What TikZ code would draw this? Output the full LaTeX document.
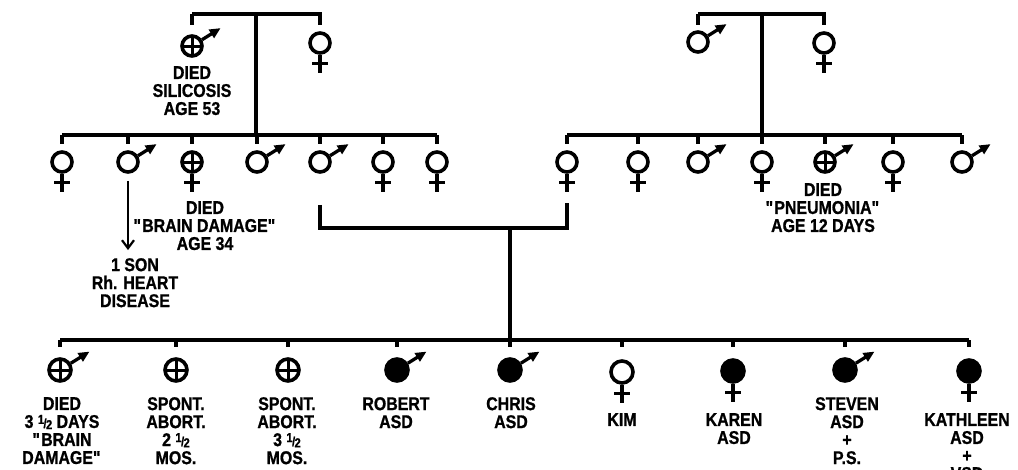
\documentclass[tikz,border=0pt]{standalone}
\usepackage{fontspec}
\setmainfont{Liberation Sans}[BoldFeatures={FakeBold=0.9,FakeStretch=0.86}]
\usetikzlibrary{arrows.meta,positioning,calc}

\newcommand\halfmark{{\fontsize{13}{13}\selectfont\raisebox{4pt}{1}\kern-0.6pt/\kern-0.6pt\raisebox{-1.2pt}{2}}}

\tikzset{
  kin/.style={line width=3.3pt},
  person/.style={circle,draw,line width=3.6pt,minimum size=20pt,inner sep=0pt},
  child/.style={person,minimum size=22pt},
  dead/.style={path picture={\draw[line width=3pt]
      (path picture bounding box.north) -- (path picture bounding box.south)
      (path picture bounding box.west) -- (path picture bounding box.east);}},
  asd/.style={fill=black},
  malearrow/.style={line width=3.3pt,-{Triangle[length=11pt,width=9.5pt]}},
  descent/.style={line width=2.2pt,-{Straight Barb[length=8pt,width=12pt]}},
  note/.style={font=\fontsize{18.5}{18}\selectfont\bfseries,align=center,inner sep=0pt,anchor=north},
}

\begin{document}
\begin{tikzpicture}[x=1pt,y=-1pt]
  \useasboundingbox (0,0) rectangle (1018,469);

  % grandparents
  \node[person,dead] (g1) at (192,46) {};
  \node[person] (g2) at (320,43) {};
  \coordinate (mar1) at (256,14);
  \node[person] (h1) at (698,42) {};
  \node[person] (h2) at (824,43) {};
  \coordinate (mar2) at (762,14);
  \node[note] (t1) at (192,66) {DIED\\SILICOSIS\\AGE 53};

  % father's sibship
  \coordinate (sib1) at (0,135);
  \node[person] (c1) at (62,162) {};
  \node[person] (c2) at (128,162) {};
  \node[person,dead] (c3) at (192,162) {};
  \node[person] (c4) at (257,162) {};
  \node[person] (c5) at (320,162) {};
  \node[person] (c6) at (383,162) {};
  \node[person] (c7) at (437,162) {};
  \node[note] (t2) at (205,201) {DIED\\\textquotedbl BRAIN DAMAGE\textquotedbl\\AGE 34};
  \node[note] (son) at (135,258) {1 SON\\Rh. HEART\\DISEASE};

  % mother's sibship
  \coordinate (sib2) at (0,135);
  \node[person] (d1) at (567,162) {};
  \node[person] (d2) at (638,162) {};
  \node[person] (d3) at (698,162) {};
  \node[person] (d4) at (762,162) {};
  \node[person,dead] (d5) at (825,162) {};
  \node[person] (d6) at (893,162) {};
  \node[person] (d7) at (962,162) {};
  \node[note] (t3) at (823,183) {DIED\\\textquotedbl PNEUMONIA\textquotedbl\\AGE 12 DAYS};

  % propositus' sibship
  \coordinate (mar3) at (510,228);
  \coordinate (sib3) at (0,340);
  \node[child,dead] (e1) at (60,370) {};
  \node[child,dead] (e2) at (176,370) {};
  \node[child,dead] (e3) at (288,370) {};
  \node[child,asd] (e4) at (397,370) {};
  \node[child,asd] (e5) at (510,370) {};
  \node[child] (e6) at (622,372) {};
  \node[child,asd] (e7) at (733,371) {};
  \node[child,asd] (e8) at (845,370) {};
  \node[child,asd] (e9) at (969,371) {};

  \node[note] (n1) at (62,397) {DIED\\3\ \halfmark\ DAYS\\\textquotedbl BRAIN\\DAMAGE\textquotedbl};
  \node[note] (n2) at (176,397) {SPONT.\\ABORT.\\2\ \halfmark\\MOS.};
  \node[note] (n3) at (287,397) {SPONT.\\ABORT.\\3\ \halfmark\\MOS.};
  \node[note] (n4) at (396,397) {ROBERT\\ASD};
  \node[note] (n5) at (511,397) {CHRIS\\ASD};
  \node[note] (n6) at (622,413) {KIM};
  \node[note] (n7) at (734,413) {KAREN\\ASD};
  \node[note] (n8) at (847,397) {STEVEN\\ASD\\+\\P.S.};
  \node[note] (n9) at (967,413) {KATHLEEN\\ASD\\+\\VSD};

  % sex marks
  \foreach \n in {g1,h1,c2,c4,c5,d3,d5,d7,e1,e4,e5,e8}
    \draw[malearrow] (\n.32) -- ++(32:22pt);
  \foreach \n in {g2,h2,c1,c3,c6,c7,d1,d2,d4,d6,e6,e7,e9}
    \draw[kin] (\n.south) -- ++(0,18) ++(-8,-9) -- ++(16,0);

  % marriage and sibship lines
  \draw[kin] (g1 |- mar1) -- ++(0,11) (g1 |- mar1) -- (g2 |- mar1) -- ++(0,11);
  \draw[kin] (h1 |- mar2) -- ++(0,11) (h1 |- mar2) -- (h2 |- mar2) -- ++(0,11);
  \draw[kin] (mar1) -- (mar1 |- sib1);
  \draw[kin] (mar2) -- (mar2 |- sib2);
  \draw[kin] (c1 |- sib1) -- (c7 |- sib1);
  \draw[kin] (d1 |- sib2) -- (d7 |- sib2);
  \foreach \n in {c1,c2,c3,c4,c5,c6,c7}
    \draw[kin] (\n |- sib1) -- ++(0,9);
  \foreach \n in {d1,d2,d3,d4,d5,d6,d7}
    \draw[kin] (\n |- sib2) -- ++(0,9);
  \draw[kin] ([yshift=-31pt]c5.south) |- (mar3) -| ([yshift=-29pt]d1.south);
  \draw[kin] (mar3) -- (mar3 |- sib3);
  \draw[kin] (e1 |- sib3) -- (e9 |- sib3);
  \foreach \n in {e1,e2,e3,e4,e5,e6,e7,e8,e9}
    \draw[kin] (\n |- sib3) -- ++(0,7);
  \draw[descent] ([yshift=-7pt]c2.south) -- ($(son.north -| c2)+(0,-8)$);
\end{tikzpicture}
\end{document}
